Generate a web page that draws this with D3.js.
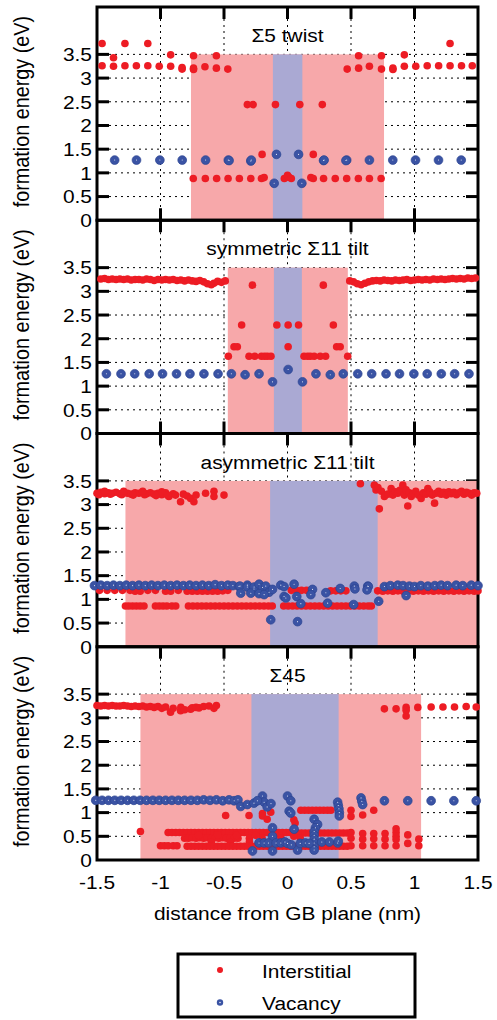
<!DOCTYPE html>
<html>
<head>
<meta charset="utf-8">
<script src="https://cdn.jsdelivr.net/npm/d3@7"></script>
<style>
  html, body { margin: 0; padding: 0; background: #fff; }
  svg { display: block; }
  text { font-family: "Liberation Sans", Arial, Helvetica, sans-serif; fill: #000; }
</style>
</head>
<body>
<svg id="chart" width="497" height="1020"></svg>
<script>
// ---------- categories / ticks ----------
const panelTitles = ["Σ5 twist", "symmetric Σ11 tilt", "asymmetric Σ11 tilt", "Σ45"];
const xTicks = [-1.5, -1, -0.5, 0, 0.5, 1, 1.5];
const xTickLabels = ["-1.5", "-1", "-0.5", "0", "0.5", "1", "1.5"];
const yTicks = [0, 0.5, 1, 1.5, 2, 2.5, 3, 3.5];
const yTickLabels = ["0", "0.5", "1", "1.5", "2", "2.5", "3", "3.5"];
const xLabel = "distance from GB plane (nm)";
const yLabel = "formation energy (eV)";
const legendLabels = ["Interstitial", "Vacancy"];

// shaded regions per panel [from, to] in nm, up to 3.5 eV
const pinkRegions = [[-0.76, 0.76], [-0.47, 0.475], [-1.276, 1.5], [-1.158, 1.052]];
const blueRegions = [[-0.115, 0.117], [-0.107, 0.113], [-0.137, 0.71], [-0.284, 0.4025]];
const regionTop = 3.5;

// ---------- data: [distance nm, formation energy eV] ----------
const twistInter = [
[-1.46,3.26],[-1.37,3.25],[-1.28,3.26],[-1.19,3.26],[-1.10,3.26],[-1.01,3.25],[-0.92,3.25],[-0.83,3.22],[-0.83,3.19],[-0.74,3.21],[-0.74,3.18],[-0.65,3.24],[-0.56,3.21],[-0.47,3.19],
[-1.46,3.73],[-1.37,3.43],[-1.28,3.73],[-1.10,3.73],[-0.92,3.49],[-0.74,3.47],[-0.56,3.47],
[0.47,3.19],[0.56,3.21],[0.645,3.25],[0.74,3.19],[0.83,3.18],[0.83,3.21],[0.92,3.25],[1.01,3.25],[1.10,3.26],[1.19,3.26],[1.28,3.26],[1.37,3.26],[1.455,3.26],
[0.56,3.47],[0.74,3.47],[0.92,3.49],[1.28,3.73],
[-0.316,2.44],[-0.271,2.44],[-0.095,2.44],[0.097,2.44],[0.274,2.44],
[-0.2,1.39],[0.203,1.39],
[-0.742,0.88],[-0.647,0.88],[-0.558,0.88],[-0.468,0.88],[-0.379,0.88],[-0.289,0.88],[-0.205,0.88],[-0.184,0.9],[-0.025,0.88],[0.0,0.95],[0.01,0.91],[0.03,0.88],[0.184,0.9],[0.203,0.88],[0.284,0.88],[0.376,0.88],[0.466,0.88],[0.558,0.88],[0.645,0.88],[0.737,0.88]
];
const twistVac = [
[-1.361,1.27],[-1.189,1.27],[-1.005,1.27],[-0.829,1.27],[-0.645,1.27],[-0.466,1.27],[-0.46,1.26],[-0.289,1.25],[-0.285,1.27],[0.284,1.26],[0.288,1.27],[0.466,1.27],[0.46,1.26],[0.645,1.27],[0.829,1.27],[1.008,1.27],[1.189,1.27],[1.368,1.27],
[-0.087,1.39],[0.087,1.39],[-0.105,0.78],[0.113,0.78]
];

const symInter = [
[-1.47,3.26],[-1.44,3.27],[-1.41,3.25],[-1.38,3.26],[-1.35,3.25],[-1.32,3.26],[-1.29,3.25],[-1.26,3.26],[-1.23,3.24],[-1.20,3.25],[-1.17,3.25],[-1.14,3.24],[-1.11,3.26],[-1.08,3.25],[-1.05,3.23],[-1.02,3.25],[-0.99,3.24],[-0.96,3.25],[-0.93,3.24],[-0.90,3.25],[-0.87,3.23],[-0.84,3.24],[-0.81,3.22],[-0.78,3.24],[-0.75,3.22],[-0.72,3.21],[-0.69,3.23],[-0.66,3.2],[-0.63,3.16],[-0.60,3.14],[-0.58,3.17],[-0.55,3.21],[-0.52,3.19],[-0.49,3.22],
[0.49,3.22],[0.52,3.2],[0.55,3.16],[0.58,3.14],[0.61,3.17],[0.64,3.2],[0.67,3.22],[0.70,3.23],[0.73,3.22],[0.76,3.24],[0.79,3.23],[0.82,3.22],[0.85,3.24],[0.88,3.23],[0.91,3.24],[0.94,3.25],[0.97,3.23],[1.00,3.24],[1.03,3.25],[1.06,3.24],[1.09,3.25],[1.12,3.24],[1.15,3.26],[1.18,3.25],[1.21,3.26],[1.24,3.25],[1.27,3.26],[1.30,3.27],[1.33,3.26],[1.36,3.27],[1.39,3.26],[1.42,3.28],[1.45,3.27],[1.48,3.28],
[-0.466,1.63],[-0.421,1.83],[-0.395,1.83],[-0.361,2.29],[-0.276,3.13],[-0.303,1.63],[-0.258,1.63],[-0.205,1.63],[-0.18,1.63],[-0.158,1.63],[-0.13,1.63],[-0.084,2.29],[0.005,2.29],[0.005,1.83],[0.087,2.29],[0.13,1.63],[0.158,1.63],[0.18,1.63],[0.21,1.63],[0.258,1.63],[0.3,1.63],[0.282,3.13],[0.361,2.29],[0.387,1.83],[0.415,1.83],[0.474,1.63]
];
const symVac = [
[-1.426,1.26],[-1.311,1.26],[-1.203,1.26],[-1.089,1.26],[-0.984,1.26],[-0.874,1.26],[-0.768,1.26],[-0.658,1.26],[-0.547,1.26],[-0.442,1.26],[-0.334,1.24],[-0.224,1.26],
[0.224,1.26],[0.337,1.24],[0.439,1.26],[0.553,1.26],[0.663,1.26],[0.776,1.26],[0.882,1.26],[0.995,1.26],[1.1,1.26],[1.211,1.26],[1.316,1.26],[1.429,1.26],
[-0.118,1.09],[0.118,1.09],[0.005,1.35]
];

const asymInter = [
[-1.5,3.24],[-1.47,3.26],[-1.44,3.23],[-1.41,3.25],[-1.38,3.24],[-1.35,3.26],[-1.32,3.23],[-1.29,3.25],[-1.26,3.24],[-1.23,3.22],[-1.2,3.25],[-1.17,3.24],[-1.14,3.26],[-1.11,3.23],[-1.08,3.25],[-1.05,3.22],[-1.02,3.24],[-0.99,3.21],[-0.96,3.25],[-0.934,3.17],[-0.9,3.23],[-0.882,3.2],[-0.842,3.06],[-0.82,3.22],[-0.79,3.18],[-0.763,3.13],[-0.737,3.06],[-0.72,3.2],[-0.645,3.24],[-0.579,3.28],[-0.579,3.17],[-0.5,3.2],
[-1.485,3.21],[-1.395,3.22],[-1.305,3.21],[-1.215,3.2],[-1.125,3.21],[-1.035,3.19],[-0.945,3.2],[-1.44,3.28],[-1.29,3.28],[-1.14,3.28],[-0.99,3.27],
[0.574,3.44],[0.684,3.41],[0.697,3.31],[0.712,3.36],[0.723,2.91],[0.74,3.28],[0.763,3.17],[0.79,3.22],[0.816,3.34],[0.83,3.2],[0.85,3.27],[0.868,3.24],[0.885,3.3],[0.908,3.41],[0.92,3.2],[0.934,3.31],[0.947,2.97],[0.96,3.25],[0.974,3.17],[0.99,3.23],[1.01,3.28],[1.03,3.2],[1.052,3.13],[1.07,3.25],[1.09,3.22],[1.105,3.34],[1.12,3.27],[1.14,3.2],[1.158,3.03],[1.17,3.24],[1.19,3.28],[1.21,3.22],[1.23,3.26],[1.25,3.2],[1.27,3.27],[1.29,3.23],[1.31,3.26],[1.33,3.21],[1.35,3.25],[1.37,3.28],[1.39,3.22],[1.41,3.26],[1.43,3.24],[1.45,3.2],[1.47,3.25],[1.49,3.24],
[-1.48,1.19],[-1.42,1.19],[-1.36,1.19],[-1.30,1.19],[-1.24,1.19],[-1.2,1.17],[-1.16,1.17],[-1.10,1.19],[-1.04,1.19],[-0.96,1.17],[-0.92,1.17],[-0.86,1.19],[-0.79,1.17],[-0.75,1.17],[-0.71,1.17],[-0.67,1.17],[-0.63,1.17],[-0.59,1.17],[-0.55,1.17],[-0.51,1.18],[-0.47,1.19],
[0.03,1.19],[0.07,1.19],[0.11,1.19],[0.15,1.19],[0.34,1.18],[0.38,1.18],[0.42,1.18],[0.46,1.18],
[0.71,1.18],[0.75,1.17],[0.79,1.18],[0.83,1.17],[0.87,1.18],[0.91,1.17],[0.95,1.18],[0.99,1.17],[1.03,1.18],[1.07,1.17],[1.11,1.18],[1.15,1.17],[1.19,1.18],[1.23,1.17],[1.27,1.18],[1.31,1.17],[1.35,1.18],[1.39,1.17],[1.43,1.18],[1.47,1.17],[1.5,1.18],
[-1.276,0.86],[-1.25,0.86],[-1.22,0.86],[-1.19,0.86],[-1.16,0.86],[-1.13,0.86],
[-1.04,0.86],[-1.01,0.86],[-0.98,0.86],[-0.95,0.86],[-0.91,0.86],[-0.88,0.86],
[-0.78,0.86],[-0.745,0.86],[-0.71,0.86],[-0.675,0.86],[-0.64,0.86],[-0.605,0.86],[-0.57,0.86],[-0.535,0.86],[-0.5,0.86],[-0.465,0.86],[-0.43,0.86],[-0.395,0.86],[-0.36,0.86],[-0.325,0.86],[-0.29,0.86],[-0.255,0.86],[-0.22,0.86],[-0.185,0.86],[-0.15,0.86],[-0.12,0.86],
[-0.03,0.86],[0.005,0.86],[0.04,0.86],[0.075,0.86],[0.11,0.86],[0.145,0.86],[0.18,0.86],[0.215,0.86],[0.25,0.86],[0.285,0.86],[0.32,0.86],[0.355,0.86],[0.39,0.86],[0.425,0.86],[0.46,0.86],[0.495,0.86],[0.53,0.86],[0.565,0.86],[0.6,0.86],[0.635,0.86],[0.66,0.86]
];
const asymVac = [
[-1.52,1.29],[-1.47,1.3],[-1.42,1.29],[-1.37,1.3],[-1.32,1.29],[-1.27,1.3],[-1.22,1.29],[-1.17,1.3],[-1.12,1.29],[-1.07,1.3],[-1.02,1.29],[-0.97,1.3],[-0.92,1.29],[-0.87,1.3],[-0.82,1.29],[-0.77,1.3],[-0.72,1.29],[-0.67,1.3],[-0.62,1.29],[-0.57,1.31],[-0.52,1.29],[-0.47,1.3],[-0.43,1.29],
[-0.382,1.27],[-0.374,1.28],[-0.316,1.3],[-0.316,1.26],[-0.264,1.22],[-0.263,1.26],[-0.224,1.32],[-0.197,1.25],[-0.171,1.28],[-0.368,1.13],[-0.289,1.13],[-0.224,1.12],[-0.145,1.15],[-0.184,1.1],[-0.118,1.21],[-0.053,1.3],[-0.027,1.06],[-0.132,0.57],
[-0.027,1.27],[0.052,1.32],[-0.013,1.03],[0.073,1.06],[0.105,0.91],[0.197,1.21],[0.184,1.1],[0.302,1.14],[0.316,0.92],[0.415,1.23],[0.526,1.28],[0.531,1.22],[0.521,0.89],[0.632,1.28],[0.636,1.27],[0.626,1.2],[0.718,0.96],[0.079,0.53],
[0.763,1.27],[0.81,1.29],[0.868,1.3],[0.91,1.29],[0.934,1.08],[0.96,1.28],[1.0,1.27],[1.05,1.29],[1.105,1.28],[1.16,1.29],[1.21,1.3],[1.26,1.29],[1.328,1.3],[1.38,1.29],[1.447,1.3],[1.5,1.29]
];

const s45Inter = [
[-1.5,3.26],[-1.47,3.25],[-1.44,3.26],[-1.41,3.25],[-1.38,3.26],[-1.35,3.25],[-1.32,3.25],[-1.29,3.26],[-1.26,3.25],[-1.23,3.24],[-1.2,3.25],[-1.17,3.24],[-1.14,3.25],[-1.11,3.23],[-1.08,3.24],[-1.05,3.22],[-1.02,3.24],[-0.99,3.2],[-0.96,3.23],[-0.921,3.12],[-0.9,3.2],[-0.842,3.15],[-0.84,3.22],[-0.81,3.17],[-0.763,3.18],[-0.75,3.21],[-0.72,3.22],[-0.697,3.21],[-0.66,3.24],[-0.618,3.25],[-0.579,3.2],[-0.56,3.26],
[0.763,3.19],[0.855,3.19],[0.934,3.22],[0.934,3.04],[0.934,3.16],[1.026,3.22],[1.131,3.23],[1.224,3.23],[1.315,3.23],[1.407,3.24],[1.486,3.23],
[-0.487,0.94],[-0.303,0.94],[-0.197,0.98],[-0.197,0.93],[-0.132,1.01],[-0.16,0.86],[0.05,0.85],[0.06,0.78],[0.105,1.05],[0.135,1.05],[0.165,1.05],[0.195,1.05],[0.225,1.05],[0.255,1.05],[0.285,1.05],[0.315,1.05],[0.342,1.05],[0.5,1.05],[0.5,0.92],[0.592,0.95],[0.679,1.05],
[-1.158,0.6],
[-0.94,0.58],[-0.91,0.58],[-0.88,0.58],[-0.85,0.58],[-0.82,0.58],[-0.79,0.58],[-0.76,0.58],[-0.73,0.58],[-0.7,0.58],[-0.67,0.58],[-0.64,0.58],[-0.61,0.58],[-0.58,0.58],[-0.55,0.58],[-0.52,0.58],[-0.49,0.58],[-0.46,0.58],[-0.43,0.58],[-0.4,0.58],[-0.37,0.58],[-0.34,0.58],[-0.31,0.58],[-0.28,0.58],[-0.25,0.58],[-0.22,0.58],[-0.19,0.58],[-0.16,0.58],[-0.13,0.58],[-0.1,0.58],[-0.07,0.58],[-0.04,0.58],[-0.01,0.58],[0.02,0.58],[0.05,0.57],[0.08,0.57],[0.11,0.57],[0.14,0.57],[0.17,0.57],[0.2,0.57],[0.23,0.57],[0.26,0.57],[0.29,0.57],[0.32,0.57],[0.35,0.57],[0.38,0.57],[0.41,0.57],[0.44,0.57],[0.47,0.57],
[-0.81,0.46],[-0.78,0.46],[-0.75,0.47],[-0.72,0.46],[-0.69,0.47],[-0.66,0.46],[-0.63,0.47],[-0.6,0.46],[-0.57,0.47],[-0.54,0.46],[-0.51,0.47],[-0.48,0.46],[-0.45,0.47],[-0.42,0.46],[-0.39,0.46],[-0.3,0.46],[-0.2,0.47],[-0.05,0.46],[0.1,0.47],
[-0.7,0.52],[-0.55,0.53],[-0.4,0.52],[-0.25,0.52],[-0.1,0.52],[0.05,0.5],[-0.6,0.38],[-0.45,0.37],[-0.3,0.38],[-0.15,0.37],
[-1.0,0.3],[-0.97,0.3],[-0.94,0.3],[-0.9,0.3],[-0.87,0.3],
[-0.79,0.29],[-0.76,0.29],[-0.73,0.29],[-0.7,0.29],[-0.67,0.29],[-0.64,0.29],[-0.61,0.29],[-0.58,0.29],[-0.55,0.29],[-0.52,0.29],[-0.49,0.29],[-0.46,0.29],[-0.43,0.29],[-0.4,0.29],[-0.37,0.29],[-0.34,0.29],[-0.31,0.29],[-0.28,0.29],[-0.25,0.29],[-0.22,0.29],[-0.19,0.29],[-0.16,0.29],[-0.13,0.29],[-0.1,0.29],[-0.07,0.29],[-0.04,0.29],[-0.01,0.29],[0.02,0.29],[0.05,0.29],[0.08,0.29],[0.11,0.29],[0.14,0.29],[0.17,0.29],[0.2,0.29],[0.23,0.29],[0.26,0.29],[0.29,0.29],[0.32,0.29],[0.35,0.29],[0.38,0.29],[0.41,0.29],[0.44,0.29],[0.47,0.29],
[0.5,0.58],[0.5,0.46],[0.5,0.3],[0.592,0.56],[0.592,0.44],[0.592,0.3],[0.679,0.56],[0.679,0.45],[0.679,0.3],[0.768,0.56],[0.768,0.44],[0.768,0.3],[0.855,0.66],[0.855,0.58],[0.855,0.5],[0.855,0.43],[0.855,0.3],[0.947,0.53],[0.947,0.35],[1.034,0.44],[1.034,0.3]
];
const s45Vac = [
[-1.51,1.26],[-1.46,1.26],[-1.41,1.26],[-1.36,1.26],[-1.31,1.26],[-1.26,1.26],[-1.21,1.26],[-1.16,1.26],[-1.11,1.26],[-1.06,1.26],[-1.01,1.26],[-0.96,1.26],[-0.91,1.26],[-0.86,1.26],[-0.81,1.26],[-0.76,1.26],[-0.71,1.26],[-0.66,1.27],[-0.61,1.26],[-0.56,1.27],[-0.51,1.25],[-0.46,1.27],[-0.42,1.25],[-0.39,1.27],
[-0.368,1.13],[-0.316,1.17],[-0.264,1.2],[-0.197,1.35],[-0.184,1.22],[-0.16,1.12],[-0.13,1.19],[-0.237,1.25],
[-0.276,0.19],[-0.224,0.36],[-0.184,0.36],[-0.118,0.68],[-0.118,0.5],[-0.118,0.19],[-0.15,0.36],[-0.09,0.36],[-0.053,0.36],[-0.02,0.38],
[0.0,1.35],[0.026,1.25],[0.013,1.03],[0.026,0.99],[0.21,0.86],[0.237,0.75],[0.22,0.68],[0.052,0.65],[0.21,0.6],[0.21,0.52],[0.21,0.44],[0.21,0.36],[0.21,0.28],[0.21,0.21],[0.079,0.21],[0.0,0.35],[0.03,0.32],[0.1,0.35],[0.14,0.36],[0.17,0.35],[0.27,0.38],[0.33,0.38],
[0.395,1.22],[0.4,1.15],[0.405,1.08],[0.408,1.0],[0.408,0.93],[0.395,0.36],[0.4,0.4],
[0.579,1.31],[0.585,1.24],[0.592,1.17],[0.763,1.25],[0.947,1.25],[1.131,1.25],[1.31,1.25],[1.486,1.25]
];

const panelInter = [twistInter, symInter, asymInter, s45Inter];
const panelVac = [twistVac, symVac, asymVac, s45Vac];

// ---------- layout ----------
const svg = d3.select("#chart");
const plotLeft = 97, plotRight = 478;
const firstTop = 7, panelH = 213.25;
const fs = 19, sx = 1.1;   // glyph size and horizontal stretch of the original figure
const RED = "#ed1c24", BLUE = "#3a53a4", PINK = "#f7a8aa", LAV = "#aaa9d3";

const x = d3.scaleLinear().domain([-1.5, 1.5]).range([plotLeft, plotRight]);
const gridX = xTicks.filter(v => v > -1.5 && v < 1.5);
const gridY = yTicks.filter(v => v > 0);

function hText(parent, px, py, anchor, str) {
  return parent.append("text")
    .attr("transform", `translate(${px},${py}) scale(${sx},1)`)
    .attr("text-anchor", anchor).attr("font-size", fs).text(str);
}
function drawInter(g, data, y, r) {
  g.append("g").selectAll("circle").data(data).join("circle")
    .attr("cx", d => x(d[0])).attr("cy", d => y(d[1])).attr("r", r).attr("fill", RED);
}
function drawVac(g, data, y, r) {
  const gg = g.append("g");
  gg.selectAll("circle.o").data(data).join("circle").attr("class", "o")
    .attr("cx", d => x(d[0])).attr("cy", d => y(d[1])).attr("r", r)
    .attr("fill", BLUE).attr("stroke", "#2c4592").attr("stroke-width", 0.7);
  gg.selectAll("circle.c").data(data).join("circle").attr("class", "c")
    .attr("cx", d => x(d[0])).attr("cy", d => y(d[1])).attr("r", 0.55)
    .attr("fill", "#e6e9f5");
}

const ys = [];
panelTitles.forEach((title, i) => {
  const top = firstTop + i * panelH, bot = top + panelH;
  const y = d3.scaleLinear().domain([0, 4.5]).range([bot, top]);
  ys.push(y);
  const g = svg.append("g");

  // grid (dotted)
  g.append("g").selectAll("line").data(gridY).join("line")
    .attr("x1", plotLeft).attr("x2", plotRight).attr("y1", d => y(d)).attr("y2", d => y(d))
    .attr("stroke", "#000").attr("stroke-width", 1).attr("stroke-dasharray", "2,4");
  g.append("g").selectAll("line").data(gridX).join("line")
    .attr("y1", top).attr("y2", bot).attr("x1", d => x(d)).attr("x2", d => x(d))
    .attr("stroke", "#000").attr("stroke-width", 1).attr("stroke-dasharray", "2,4");

  // ticks
  const tl = 12;
  const tg = g.append("g").attr("stroke", "#000").attr("stroke-width", 3);
  gridY.forEach(v => {
    tg.append("line").attr("x1", plotLeft).attr("x2", plotLeft + tl).attr("y1", y(v)).attr("y2", y(v));
    tg.append("line").attr("x1", plotRight - tl).attr("x2", plotRight).attr("y1", y(v)).attr("y2", y(v));
  });
  gridX.forEach(v => {
    tg.append("line").attr("x1", x(v)).attr("x2", x(v)).attr("y1", top).attr("y2", top + tl);
    tg.append("line").attr("x1", x(v)).attr("x2", x(v)).attr("y1", bot - tl).attr("y2", bot);
  });

  // shaded regions
  const pr = pinkRegions[i], br = blueRegions[i];
  g.append("rect").attr("x", x(pr[0])).attr("width", x(pr[1]) - x(pr[0]))
    .attr("y", y(regionTop)).attr("height", y(0) - y(regionTop)).attr("fill", PINK);
  g.append("rect").attr("x", x(br[0])).attr("width", x(br[1]) - x(br[0]))
    .attr("y", y(regionTop)).attr("height", y(0) - y(regionTop)).attr("fill", LAV);

  // frame
  g.append("rect").attr("x", plotLeft).attr("y", top).attr("width", plotRight - plotLeft).attr("height", panelH)
    .attr("fill", "none").attr("stroke", "#000").attr("stroke-width", 3);

  // title
  hText(g, x(0), top + 35, "middle", title);

  // y tick labels
  yTicks.forEach((v, k) => hText(g, 92, y(v) + 6.8, "end", yTickLabels[k]));

  // y label (rotated)
  g.append("text").attr("transform", `translate(29,${(top + bot) / 2 - 2}) rotate(-90) scale(1,${sx})`)
    .attr("text-anchor", "middle").attr("font-size", 19.8).text(yLabel);
});

// points on top
panelTitles.forEach((t, i) => {
  const g = svg.append("g");
  drawInter(g, panelInter[i], ys[i], 3.8);
  drawVac(g, panelVac[i], ys[i], 4.4);
});

// x tick labels & label
const lastBot = firstTop + 4 * panelH;
xTicks.forEach((v, k) => hText(svg, x(v), lastBot + 29, "middle", xTickLabels[k]));
hText(svg, x(0), lastBot + 60, "middle", xLabel);

// legend
const lg = svg.append("g");
lg.append("rect").attr("x", 178).attr("y", 954).attr("width", 237).attr("height", 63)
  .attr("fill", "#fff").attr("stroke", "#000").attr("stroke-width", 3);
lg.append("circle").attr("cx", 220).attr("cy", 970).attr("r", 3).attr("fill", RED);
lg.append("circle").attr("cx", 220).attr("cy", 1002.5).attr("r", 3.2).attr("fill", BLUE);
lg.append("circle").attr("cx", 220).attr("cy", 1002.5).attr("r", 0.8).attr("fill", "#e6e9f5");
hText(lg, 262, 978, "start", legendLabels[0]);
hText(lg, 262, 1010, "start", legendLabels[1]);
</script>
</body>
</html>
